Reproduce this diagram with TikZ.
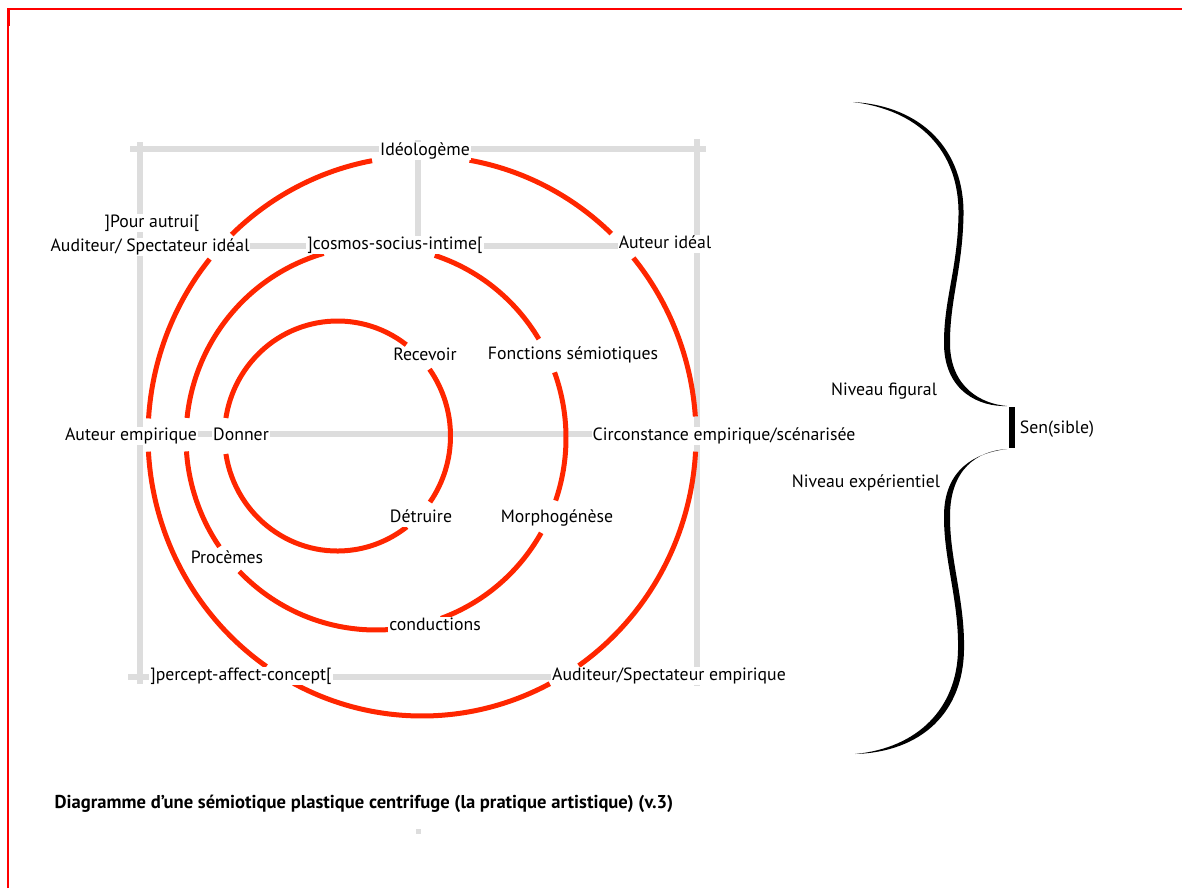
\documentclass[tikz,border=0pt]{standalone}
\usepackage{fontspec}
\setmainfont{PT Sans}
\definecolor{ringred}{RGB}{255,38,0}
\definecolor{guidegray}{RGB}{221,221,221}

\begin{document}
\begin{tikzpicture}[x=1pt, y=-1pt,
  every node/.style={font=\fontsize{17.75}{20}\selectfont, inner sep=1pt, text height=12.5pt, text depth=3.8pt},
  lbl/.style={fill=white},
  ring/.style={ringred, line width=5pt},
  guide/.style={guidegray, line width=6.5pt},
  outerarc/.style={ring, x radius=274, y radius=280},
  midarc/.style={ring, x radius=190, y radius=192},
  innerarc/.style={ring, x radius=113, y radius=115}]
  \useasboundingbox (0,0) rectangle (1182,888);
  \draw[red, line width=2pt] (8,888) -- (8,9.3) -- (1182,9.3);
  \draw[red, line width=3pt] (8.5,9) -- (8.5,26);

  \draw[guide] (130,149) -- (706,149);
  \draw[guide] (140,142) -- (140,684);
  \draw[guide] (697,139) -- (697,686);
  \draw[guide] (418,140) -- (418,252);
  \draw[guide] (140,246) -- (697,246);
  \draw[guide] (140,434) -- (697,434);
  \draw[guide] (128,677) -- (705,677);
  \fill[guidegray] (416,829) rectangle (421,834);

  \coordinate (outer) at (422,436);
  \coordinate (mid) at (376,438);
  \coordinate (inner) at (337.5,436);

  \draw[outerarc] (outer) ++(-4:274 and 280) arc[start angle=-4, end angle=-39.5];
  \draw[outerarc] (outer) ++(-46.3:274 and 280) arc[start angle=-46.3, end angle=-80];
  \draw[outerarc] (outer) ++(-100.5:274 and 280) arc[start angle=-100.5, end angle=-134];
  \draw[outerarc] (outer) ++(-140.8:274 and 280) arc[start angle=-140.8, end angle=-176.4];
  \draw[outerarc] (outer) ++(-183.2:274 and 280) arc[start angle=-183.2, end angle=-235.4];
  \draw[outerarc] (outer) ++(-242:274 and 280) arc[start angle=-242, end angle=-297.8];
  \draw[outerarc] (outer) ++(-304.9:274 and 280) arc[start angle=-304.9, end angle=-356.8];

  \draw[midarc] (mid) ++(-106:190 and 192) arc[start angle=-106, end angle=-174];
  \draw[midarc] (mid) ++(-184:190 and 192) arc[start angle=-184, end angle=-214.5];
  \draw[midarc] (mid) ++(-224:190 and 192) arc[start angle=-224, end angle=-274];
  \draw[midarc] (mid) ++(-290:190 and 192) arc[start angle=-290, end angle=-330.4];
  \draw[midarc] (mid) ++(-341:190 and 192) arc[start angle=-341, end angle=-380];
  \draw[midarc] (mid) ++(-31:190 and 192) arc[start angle=-31, end angle=-72];

  \draw[innerarc] (inner) ++(-52.5:113 and 115) arc[start angle=-52.5, end angle=-171];
  \draw[innerarc] (inner) ++(-189:113 and 115) arc[start angle=-189, end angle=-307.8];
  \draw[innerarc] (inner) ++(-324.9:113 and 115) arc[start angle=-324.9, end angle=-395.5];

  \node[lbl] (ideo) at (425,151) {Idéologème};
  \node[lbl] (autrui) at (152,223) {]Pour autrui[};
  \node[lbl] (audideal) at (150,247) {Auditeur/ Spectateur idéal};
  \node[lbl] (cosmos) at (395,245) {]cosmos-socius-intime[};
  \node[lbl] (autideal) at (665,244) {Auteur idéal};
  \node[lbl] (recevoir) at (425,356) {Recevoir};
  \node[lbl] (fonctions) at (573,355) {Fonctions sémiotiques};
  \node[lbl] (autemp) at (131,436) {Auteur empirique};
  \node[lbl] (donner) at (241,436) {Donner};
  \node[lbl] (circ) at (724,436) {Circonstance empirique/scénarisée};
  \node[lbl] (detruire) at (421,518) {Détruire};
  \node[lbl] (morpho) at (557,518) {Morphogénèse};
  \node[lbl] (procemes) at (227,559) {Procèmes};
  \node[lbl] (conduct) at (435,626) {conductions};
  \node[lbl] (percept) at (241,676) {]percept-affect-concept[};
  \node[lbl] (audemp) at (669,676) {Auditeur/Spectateur empirique};

  \fill (853,102) .. controls (922,106) and (964.5,150) .. (963.5,215)
    .. controls (962.5,270) and (949.5,300) .. (950,345)
    .. controls (951,388) and (982,404) .. (1007,406)
    .. controls (980,407) and (945,392) .. (944,345)
    .. controls (943.5,300) and (957.5,270) .. (958.5,215)
    .. controls (959.5,150) and (918,110) .. (853,102) -- cycle;
  \fill (1007,449) .. controls (976,451) and (950.5,470) .. (950,515)
    .. controls (949.5,560) and (965,600) .. (964,650)
    .. controls (963,712) and (922,752) .. (855,754)
    .. controls (918,748) and (957,708) .. (958,650)
    .. controls (959,600) and (943.5,560) .. (944,515)
    .. controls (944.5,470) and (974,453) .. (1007,449) -- cycle;
  \fill (1009,407) rectangle (1015,448);

  \node (figural) at (884,391) {Niveau figural};
  \node (experient) at (866,483) {Niveau expérientiel};
  \node (sensible) at (1057,429) {Sen(sible)};
  \node[font=\fontsize{18.6}{21}\selectfont\bfseries] (titre) at (364,804) {Diagramme d’une sémiotique plastique centrifuge (la pratique artistique) (v.3)};
\end{tikzpicture}
\end{document}
